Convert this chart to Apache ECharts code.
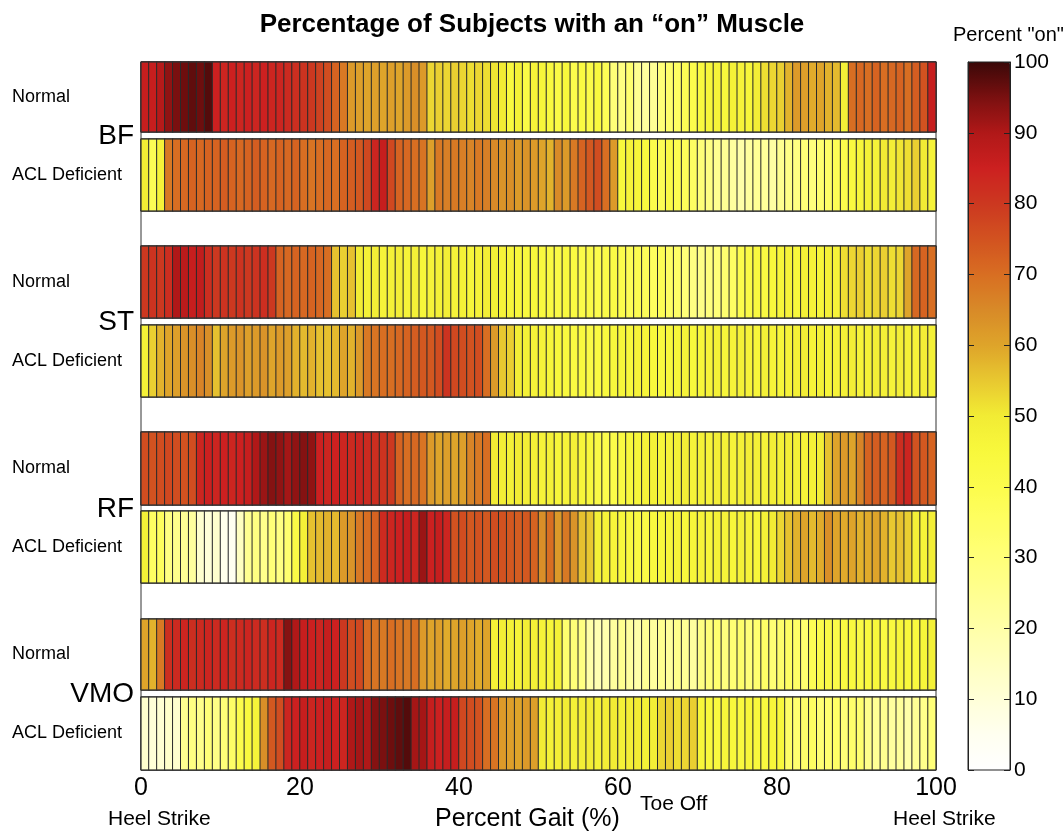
<!DOCTYPE html>
<html>
<head>
<meta charset="utf-8">
<script src="https://cdn.jsdelivr.net/npm/echarts@6/dist/echarts.min.js"></script>
<style>
	html, body { margin: 0; padding: 0; background: #fff; }
	#chart { width: 1064px; height: 836px; }
</style>
</head>
<body>
<div id="chart"></div>
<script>
// percent of subjects with the muscle "on", one value per 1% of gait (0..99)
var bfNormal = [
	86, 86, 89, 93, 95, 96, 97, 96, 98, 85,
	84, 85, 84, 85, 84, 85, 84, 84, 83, 82,
	81, 80, 78, 76, 72, 68, 62, 61, 60, 61,
	60, 61, 60, 62, 64, 62, 53, 54, 53, 54,
	53, 52, 53, 52, 51, 50, 44, 48, 42, 47,
	46, 44, 42, 45, 40, 43, 41, 44, 38, 30,
	28, 32, 25, 22, 24, 30, 33, 35, 38, 40,
	44, 46, 47, 45, 48, 47, 46, 49, 52, 53,
	54, 58, 62, 61, 59, 60, 58, 57, 48, 70,
	71, 70, 72, 70, 71, 72, 70, 73, 75, 86
];
var bfAcl = [
	50, 38, 47, 68, 70, 71, 72, 71, 72, 72,
	73, 72, 71, 72, 73, 72, 71, 72, 71, 72,
	70, 69, 70, 71, 70, 72, 73, 74, 77, 84,
	86, 77, 72, 71, 70, 69, 61, 68, 67, 68,
	67, 66, 68, 67, 65, 63, 64, 62, 63, 62,
	60, 58, 65, 62, 68, 72, 74, 76, 70, 62,
	45, 47, 46, 44, 40, 38, 42, 39, 37, 35,
	30, 28, 25, 24, 22, 20, 22, 24, 23, 21,
	25, 27, 28, 30, 29, 32, 34, 38, 40, 44,
	46, 48, 47, 50, 49, 51, 52, 54, 50, 47
];
var stNormal = [
	80, 81, 80, 82, 90, 88, 86, 87, 82, 80,
	81, 80, 81, 80, 81, 82, 80, 72, 71, 72,
	71, 72, 71, 70, 56, 54, 56, 50, 48, 49,
	47, 48, 49, 47, 48, 46, 47, 48, 49, 47,
	48, 46, 47, 49, 48, 47, 46, 45, 44, 45,
	44, 43, 42, 44, 43, 41, 42, 40, 41, 42,
	40, 38, 39, 37, 36, 38, 35, 34, 30, 28,
	27, 29, 30, 32, 35, 40, 42, 44, 43, 45,
	46, 47, 45, 48, 47, 46, 48, 47, 52, 53,
	54, 52, 53, 54, 52, 53, 60, 71, 72, 70
];
var stAcl = [
	48, 54, 58, 60, 61, 63, 64, 66, 64, 56,
	60, 62, 63, 61, 62, 63, 60, 62, 61, 58,
	57, 58, 56, 56, 57, 60, 58, 62, 68, 69,
	70, 70, 71, 72, 73, 74, 74, 76, 81, 77,
	76, 75, 76, 70, 62, 55, 54, 49, 48, 47,
	47, 46, 45, 44, 43, 44, 42, 43, 44, 45,
	46, 45, 47, 46, 45, 44, 45, 46, 47, 45,
	46, 47, 48, 46, 47, 48, 47, 46, 48, 47,
	46, 47, 48, 49, 47, 48, 46, 47, 48, 49,
	47, 48, 49, 48, 47, 49, 48, 47, 49, 48
];
var rfNormal = [
	76, 75, 76, 77, 76, 75, 76, 84, 85, 84,
	85, 84, 85, 86, 90, 92, 94, 93, 91, 93,
	94, 93, 85, 84, 85, 84, 83, 84, 83, 82,
	81, 80, 72, 70, 71, 69, 62, 60, 61, 60,
	61, 66, 68, 70, 50, 49, 48, 50, 49, 48,
	47, 48, 46, 47, 48, 46, 45, 42, 40, 41,
	43, 45, 46, 47, 48, 46, 47, 48, 49, 47,
	48, 47, 49, 48, 47, 48, 49, 48, 47, 49,
	48, 49, 48, 47, 48, 49, 56, 60, 62, 60,
	66, 72, 73, 72, 74, 82, 84, 75, 74, 72
];
var rfAcl = [
	48, 35, 36, 28, 26, 24, 22, 12, 10, 12,
	6, 5, 15, 25, 28, 26, 30, 28, 32, 42,
	48, 56, 57, 58, 57, 62, 63, 68, 70, 72,
	83, 84, 85, 86, 84, 92, 85, 86, 84, 75,
	76, 74, 75, 74, 76, 75, 74, 73, 74, 72,
	64, 70, 62, 68, 63, 56, 55, 48, 47, 46,
	45, 44, 43, 42, 44, 45, 46, 47, 45, 46,
	47, 46, 48, 47, 46, 48, 47, 46, 48, 50,
	53, 56, 58, 60, 57, 59, 64, 60, 59, 60,
	58, 59, 60, 58, 55, 56, 54, 48, 47, 49
];
var vmoNormal = [
	60, 58, 68, 82, 83, 84, 82, 83, 84, 83,
	84, 82, 83, 84, 83, 82, 84, 83, 94, 90,
	86, 85, 84, 86, 85, 80, 76, 77, 70, 69,
	68, 70, 69, 68, 70, 62, 60, 61, 59, 60,
	61, 60, 59, 60, 48, 49, 48, 47, 49, 48,
	47, 46, 48, 32, 30, 28, 20, 18, 19, 22,
	25, 22, 20, 24, 22, 25, 23, 26, 24, 22,
	28, 30, 32, 29, 31, 33, 30, 32, 34, 31,
	33, 35, 34, 32, 38, 40, 42, 41, 43, 44,
	42, 44, 45, 43, 44, 46, 45, 44, 46, 48
];
var vmoAcl = [
	12, 10, 11, 13, 12, 25, 28, 26, 30, 27,
	30, 34, 40, 44, 47, 64, 74, 76, 84, 85,
	86, 84, 85, 86, 85, 84, 90, 91, 90, 94,
	95, 96, 97, 98, 91, 91, 86, 85, 86, 86,
	77, 76, 75, 70, 69, 62, 61, 60, 62, 61,
	50, 48, 49, 50, 48, 49, 50, 48, 49, 50,
	48, 49, 50, 48, 49, 53, 54, 52, 53, 54,
	46, 45, 44, 46, 45, 44, 46, 45, 44, 46,
	45, 34, 32, 33, 35, 31, 32, 34, 30, 33,
	32, 26, 24, 25, 22, 23, 20, 24, 26, 30
];

var rowValues = [bfNormal, bfAcl, stNormal, stAcl, rfNormal, rfAcl, vmoNormal, vmoAcl];
var rowLabels = ["Normal", "ACL Deficient", "Normal", "ACL Deficient", "Normal", "ACL Deficient", "Normal", "ACL Deficient"];
var muscles = ["BF", "ST", "RF", "VMO"];
var gaitTicks = [0, 20, 40, 60, 80, 100];
var colorTicks = [0, 10, 20, 30, 40, 50, 60, 70, 80, 90, 100];

// colormap, white -> yellow -> orange -> red -> dark red
var colormap = [
	'#FFFFFF', '#FFFFF0', '#FFFFD8', '#FFFFC0', '#FFFFA8', '#FFFF90', '#FFFF78',
	'#FEFE62', '#FCFC4C', '#F8F83C', '#F2EC34', '#E8C830', '#DEA42A', '#D88A28',
	'#D86E22', '#D25220', '#CC3820', '#CC2020', '#B01818', '#7A1010', '#3A0808'
];

// layout of the 8 strips (pixels)
var PLOT_LEFT = 141, PLOT_W = 795;
var rowTops = [62, 139, 246, 325, 432, 511, 619, 697];
var rowHeights = [70, 72, 72, 72, 73, 72, 71, 73];
var muscleY = [137, 323, 510, 695];
var FONT = '"Liberation Sans"';

var gaitCats = [];
for(var i = 0; i < 100; i++) {
	gaitCats.push(String(i));
}

var grids = [], xAxes = [], yAxes = [], series = [];
for(var r = 0; r < 8; r++) {
	grids.push({
		left: PLOT_LEFT, top: rowTops[r], width: PLOT_W, height: rowHeights[r],
		show: true, borderColor: '#333', borderWidth: 1, z: 3
	});
	xAxes.push({type: 'category', gridIndex: r, data: gaitCats, show: false});
	yAxes.push({
		type: 'category', gridIndex: r, data: [rowLabels[r]],
		axisLine: {show: false}, axisTick: {show: false}, splitLine: {show: false},
		axisLabel: {align: 'left', margin: 129, fontSize: 18, color: '#000', fontFamily: 'Liberation Sans'}
	});
	var d = [];
	var vals = rowValues[r];
	for(var k = 0; k < vals.length; k++) {
		d.push([k, 0, vals[k]]);
	}
	series.push({
		type: 'heatmap', xAxisIndex: r, yAxisIndex: r, data: d,
		itemStyle: {borderColor: '#2a2a2a', borderWidth: 1},
		emphasis: {disabled: true}
	});
}

// gait axis under the last strip (xAxis 8)
xAxes.push({
	type: 'value', gridIndex: 7, min: 0, max: 100, interval: 20, position: 'bottom',
	axisLine: {show: false}, axisTick: {show: false}, splitLine: {show: false},
	axisLabel: {fontSize: 25, color: '#000', margin: 6, fontFamily: 'Liberation Sans',
		formatter: function(v) { return gaitTicks.indexOf(v) >= 0 ? String(v) : ''; }},
	name: 'Percent Gait (%)', nameLocation: 'middle', nameGap: 37,
	nameTextStyle: {fontSize: 25, color: '#000', fontFamily: 'Liberation Sans', padding: [0, 22, 0, 0]}
});

// colorbar tick grid (grid 8), drawn on its own layer above the visualMap bar
var CB_LEFT = 968, CB_W = 42;
grids.push({left: CB_LEFT, top: 62, width: CB_W, height: 708, show: true, borderColor: '#222', borderWidth: 1, zlevel: 1});
xAxes.push({type: 'value', gridIndex: 8, show: false, min: 0, max: 1});
yAxes.push({
	type: 'value', gridIndex: 8, min: 0, max: 100, interval: 10, position: 'right', zlevel: 1,
	axisLine: {show: true, onZero: false, lineStyle: {color: '#222'}},
	axisTick: {inside: true, length: 6, lineStyle: {color: '#222'}},
	splitLine: {show: false},
	axisLabel: {fontSize: 21, color: '#000', margin: 4, fontFamily: 'Liberation Sans',
		formatter: function(v) { return colorTicks.indexOf(v) >= 0 ? String(v) : ''; }}
});
yAxes.push({
	type: 'value', gridIndex: 8, min: 0, max: 100, interval: 10, position: 'left', zlevel: 1,
	axisLine: {show: true, onZero: false, lineStyle: {color: '#222'}},
	axisTick: {inside: true, length: 6, lineStyle: {color: '#222'}},
	splitLine: {show: false}, axisLabel: {show: false}
});

// outer frame of the strips
grids.push({left: PLOT_LEFT, top: 62, width: PLOT_W, height: 708, show: true, borderColor: '#333', borderWidth: 1, z: 1});

var graphics = [];
for(var m = 0; m < muscles.length; m++) {
	graphics.push({
		type: 'text', right: 1064 - 134, top: muscleY[m] - 15,
		style: {text: muscles[m], font: '28px ' + FONT, fill: '#000'}
	});
}
graphics.push({type: 'text', left: 108, top: 809, style: {text: 'Heel Strike', font: '21px ' + FONT, fill: '#000'}});
graphics.push({type: 'text', left: 893, top: 809, style: {text: 'Heel Strike', font: '21px ' + FONT, fill: '#000'}});
graphics.push({type: 'text', left: 640, top: 794, style: {text: 'Toe Off', font: '21px ' + FONT, fill: '#000'}});
graphics.push({type: 'text', left: 953, top: 25, style: {text: 'Percent "on"', font: '20px ' + FONT, fill: '#000'}});

var myChart = echarts.init(document.getElementById("chart"));
myChart.setOption({
	animation: false,
	backgroundColor: '#fff',
	title: {
		text: 'Percentage of Subjects with an \u201Con\u201D Muscle',
		left: 'center', top: 7,
		textStyle: {fontSize: 26, fontWeight: 'bold', color: '#000', fontFamily: 'Liberation Sans'}
	},
	grid: grids,
	xAxis: xAxes,
	yAxis: yAxes,
	visualMap: {
		type: 'continuous', min: 0, max: 100, dimension: 2,
		seriesIndex: [0, 1, 2, 3, 4, 5, 6, 7],
		calculable: false, realtime: false, z: 1,
		left: CB_LEFT, top: 62, itemWidth: CB_W, itemHeight: 708, padding: 0,
		text: null, showLabel: false,
		inRange: {color: colormap}
	},
	graphic: graphics,
	series: series
});
</script>
</body>
</html>
